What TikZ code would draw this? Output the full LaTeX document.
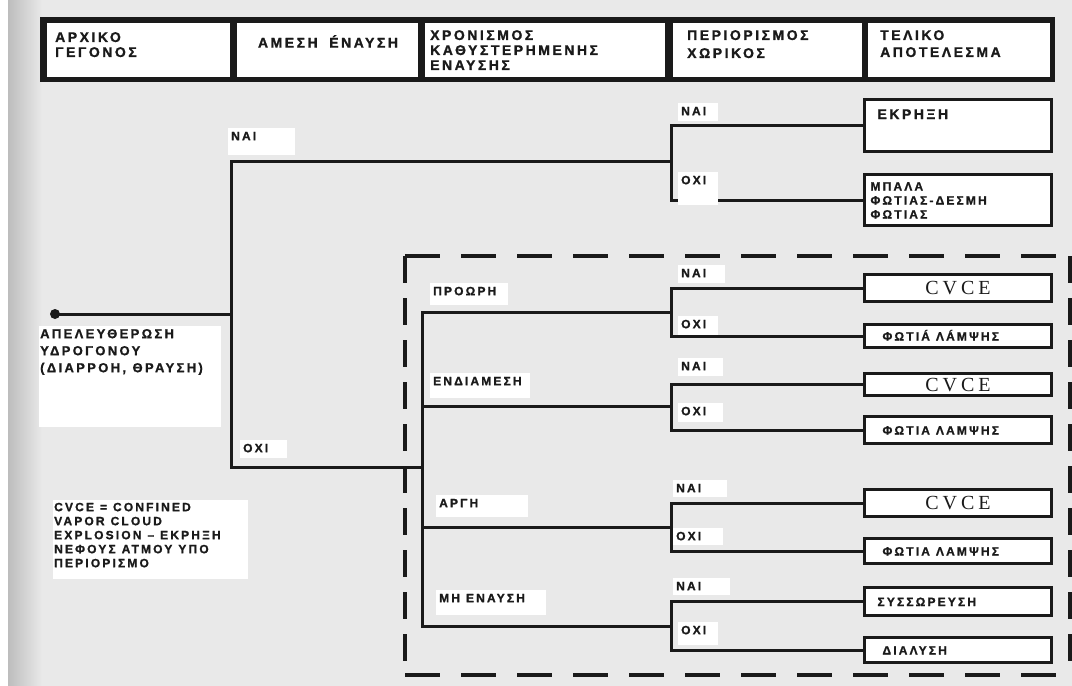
\documentclass[tikz,border=0pt]{standalone}
\usepackage{fontspec}
\usepackage{tikz}
\newfontfamily\grk[LetterSpace=18,FakeBold=1.2,WordSpace=1.8]{Liberation Sans}
\newfontfamily\cvfont[LetterSpace=20]{Liberation Serif}
\newcommand\hfnt{\grk\bfseries\fontsize{14}{15}\selectfont}
\newcommand\lfnt{\grk\bfseries\fontsize{12}{14}\selectfont}
\definecolor{paper}{HTML}{E9E9E9}
\definecolor{edge}{HTML}{BDBDBD}
\definecolor{ink}{HTML}{1A1A1A}

\begin{document}
\begin{tikzpicture}[x=1pt,y=-1pt,
  br/.style={draw=ink,line width=3pt,line join=miter},
  wide/.style={execute at begin node={\spaceskip=0.5em\relax}},
  cell/.style={fill=white,anchor=north west,inner sep=0pt,minimum height=54pt},
  htxt/.style={anchor=north west,inner sep=0pt,align=left,text=ink,font=\hfnt},
  res/.style={wide,draw=ink,line width=3.4pt,fill=white,minimum width=187pt,
              inner ysep=0pt,inner xsep=18pt,text width=151pt,align=left,
              text height=9pt,text depth=0pt,text=ink,font=\lfnt},
  cvce/.style={res,align=center,text height=13pt,font=\cvfont\fontsize{20}{22}\selectfont},
  ans/.style={wide,fill=white,anchor=north west,inner sep=3pt,align=left,
              text height=9pt,text depth=3pt,text=ink,font=\lfnt},
  note/.style={wide,fill=white,anchor=north west,inner xsep=1pt,inner ysep=2pt,
               align=left,text=ink},
  dashbox/.style={draw=ink,line width=3.4pt},
]

% ---- paper
\fill[paper] (0,0) rectangle (1072,686);
\fill[white] (0,0) rectangle (8,686);
\shade[left color=edge,right color=paper] (8,0) rectangle (42,686);
\useasboundingbox (0,0) rectangle (1072,686);

% ---- header row
\node[fill=ink,anchor=north west,inner sep=0pt,minimum width=1015pt,
      minimum height=65pt] (hdr) at (40,17) {};
\node[cell,minimum width=183pt] (hd1) at (47,23) {};
\node[cell,minimum width=181pt] (hd2) at (237,23) {};
\node[cell,minimum width=240pt] (hd3) at (425,23) {};
\node[cell,minimum width=189pt] (hd4) at (673,23) {};
\node[cell,minimum width=182pt] (hd5) at (868,23) {};
\node[htxt] (ht1) at (55,32) {ΑΡΧΙΚΟ\\ΓΕΓΟΝΟΣ};
\node[htxt,anchor=north] (ht2) at (328,35) {ΑΜΕΣΗ ÉΝΑΥΣΗ};
\node[htxt] (ht3) at (430,30) {ΧΡΟΝΙΣΜΟΣ\\ΚΑΘΥΣΤΕΡΗΜΕΝΗΣ\\ΕΝΑΥΣΗΣ};
\node[htxt,font=\grk\bfseries\fontsize{14}{18}\selectfont] (ht4) at (687,30) {ΠΕΡΙΟΡΙΣΜΟΣ\\ΧΩΡΙΚΟΣ};
\node[htxt,font=\grk\bfseries\fontsize{14}{17}\selectfont] (ht5) at (880,30) {ΤΕΛΙΚΟ\\ΑΠΟΤΕΛΕΣΜΑ};

% ---- delayed ignition frame
\draw[dashbox,dash pattern=on 35pt off 21pt] (405,256) -- (1070,256) (405,675) -- (1070,675);
\draw[dashbox,dash pattern=on 27pt off 15pt] (405,256) -- (405,675) (1070,256) -- (1070,675);

% ---- outcomes
\node[res,inner xsep=13pt,text width=161pt,minimum height=52pt,text height=10pt,
      text depth=23pt,font=\hfnt] (ekrixi) at (958,125.5) {ΕΚΡΗΞΗ};
\node[res,inner xsep=6pt,text width=175pt,minimum height=51pt,text depth=28pt]
     (mpala) at (958,200) {ΜΠΑΛΑ\\ΦΩΤΙΑΣ-ΔΕΣΜΗ\\ΦΩΤΙΑΣ};
\node[cvce,minimum height=27pt] (cvce1) at (958,288) {CVCE};
\node[res,minimum height=23pt] (flash1) at (958,336) {ΦΩΤΙÁ ΛÁΜΨΗΣ};
\node[cvce,minimum height=22pt] (cvce2) at (958,384.5) {CVCE};
\node[res,minimum height=27pt] (flash2) at (958,430) {ΦΩΤΙΑ ΛΑΜΨΗΣ};
\node[cvce,minimum height=27pt] (cvce3) at (958,503) {CVCE};
\node[res,minimum height=25pt] (flash3) at (958,551) {ΦΩΤΙΑ ΛΑΜΨΗΣ};
\node[res,inner xsep=13pt,text width=161pt,minimum height=28pt] (accum) at (958,601.5) {ΣΥΣΣΩΡΕΥΣΗ};
\node[res,minimum height=25pt] (disp) at (958,650) {ΔΙΑΛΥΣΗ};

% ---- the tree
\node[circle,fill=ink,inner sep=0pt,minimum size=10pt] (leak) at (55,314) {};
\coordinate (j0) at (231,314);
\coordinate (k) at (671,161);
\coordinate (m) at (422,467);
\coordinate (g1) at (671,312);
\coordinate (g2) at (671,406);
\coordinate (g3) at (671,527);
\coordinate (g4) at (671,626);
\draw[br] (leak.center) -- (j0) |- (k);
\draw[br] (j0) |- (m);
\draw[br] (k) |- (ekrixi.west);
\draw[br] (k) |- (mpala.west);
\draw[br] (m) |- (g1);
\draw[br] (m) |- (g2);
\draw[br] (m) |- (g3);
\draw[br] (m) |- (g4);
\draw[br] (g1) |- (cvce1.west);
\draw[br] (g1) |- (flash1.west);
\draw[br] (g2) |- (cvce2.west);
\draw[br] (g2) |- (flash2.west);
\draw[br] (g3) |- (cvce3.west);
\draw[br] (g3) |- (flash3.west);
\draw[br] (g4) |- (accum.west);
\draw[br] (g4) |- (disp.west);

% ---- branch answers
\node[ans,text width=61pt,text depth=12pt] (yes1) at (228,128) {ΝΑΙ};
\node[ans,text width=41pt] (no1) at (240,440) {ΟΧΙ};
\node[ans,text width=34pt] (yesk) at (678,103) {ΝΑΙ};
\node[ans,text width=34pt,text depth=18pt] (nok) at (678,172) {ΟΧΙ};
\node[ans,text width=41pt] (yesg1) at (678,265) {ΝΑΙ};
\node[ans,text width=34pt,text depth=4pt] (nog1) at (678,316) {ΟΧΙ};
\node[ans,text width=39pt] (yesg2) at (678,358) {ΝΑΙ};
\node[ans,text width=39pt,text depth=4pt] (nog2) at (678,403) {ΟΧΙ};
\node[ans,text width=48pt,text depth=2pt] (yesg3) at (673,480) {ΝΑΙ};
\node[ans,text width=44pt,text depth=2pt] (nog3) at (673,528) {ΟΧΙ};
\node[ans,text width=51pt,text depth=2pt] (yesg4) at (673,578) {ΝΑΙ};
\node[ans,text width=34pt,text depth=8pt] (nog4) at (678,622) {ΟΧΙ};

% ---- ignition timing
\node[ans,text width=72pt,text depth=7pt] (early) at (430,283) {ΠΡΟΩΡΗ};
\node[ans,text width=94pt,text depth=10pt] (mid) at (430,373) {ΕΝΔΙΑΜΕΣΗ};
\node[ans,text width=86pt,text depth=7pt] (late) at (436,495) {ΑΡΓΗ};
\node[ans,text width=104pt,text depth=10pt] (never) at (436,590) {ΜΗ ΕΝΑΥΣΗ};

% ---- start event and legend
\node[note,text width=180pt,text height=10pt,text depth=87pt,
      font=\grk\bfseries\fontsize{13}{17}\selectfont] (leaklbl) at (39,326)
     {ΑΠΕΛΕΥΘΕΡΩΣΗ\\ΥΔΡΟΓΟΝΟΥ\\(ΔΙΑΡΡΟΗ, ΘΡΑΥΣΗ)};
\node[note,text width=193pt,text height=9pt,text depth=66pt,font=\lfnt] (legend) at (53,500)
     {CVCE = CONFINED\\VAPOR CLOUD\\EXPLOSION – ΕΚΡΗΞΗ\\ΝΕΦΟΥΣ ΑΤΜΟΥ ΥΠΟ\\ΠΕΡΙΟΡΙΣΜΟ};
\end{tikzpicture}
\end{document}
